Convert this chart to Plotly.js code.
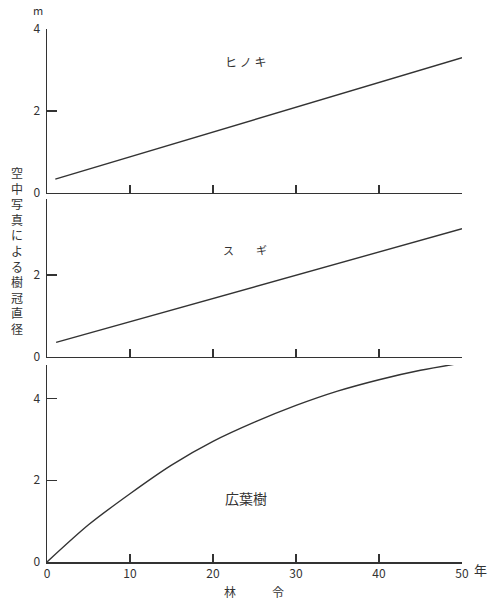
<!DOCTYPE html>
<html>
<head>
<meta charset="utf-8">
<script src="https://cdn.plot.ly/plotly-3.0.1.min.js"></script>
<style>html,body{margin:0;padding:0;background:#fff;}#chart{width:488px;height:599px;}</style>
</head>
<body>
<div id="chart"></div>
<script>
// Data
const hinokiAge = [1, 50];
const hinokiCrown = [0.33, 3.30];
const sugiAge = [1.1, 50];
const sugiCrown = [0.35, 3.13];
const broadAge = [0, 5, 10, 15, 20, 25, 30, 35, 40, 45, 50];
const broadCrown = [0, 0.91, 1.67, 2.37, 2.95, 3.42, 3.83, 4.18, 4.46, 4.69, 4.87];
const xTicks = [0, 10, 20, 30, 40, 50];
const yTicksTop = [0, 2, 4];
const yTicksMid = [0, 2];
const yTicksBot = [0, 2, 4];

const FONT = 'Noto Sans CJK JP, Liberation Sans, sans-serif';
const INK = '#333';
const L = 47, R = 26, T = 29, B = 37, W = 488, H = 599;
const PW = W - L - R, PH = H - T - B;
const px = v => (v - L) / PW;
const py = v => (H - B - v) / PH;

const lineStyle = {color: INK, width: 1.4};
const traces = [
  {x: broadAge, y: broadCrown, xaxis: 'x', yaxis: 'y', mode: 'lines', line: Object.assign({shape: 'spline', smoothing: 0.8}, lineStyle), hoverinfo: 'skip'},
  {x: sugiAge, y: sugiCrown, xaxis: 'x2', yaxis: 'y2', mode: 'lines', line: lineStyle, hoverinfo: 'skip'},
  {x: hinokiAge, y: hinokiCrown, xaxis: 'x3', yaxis: 'y3', mode: 'lines', line: lineStyle, hoverinfo: 'skip'}
];

const xBase = {
  range: [0, 50], tickvals: xTicks, ticks: 'inside', ticklen: 8, tickwidth: 1.3, tickcolor: INK,
  showline: true, linecolor: INK, linewidth: 1.5, showgrid: false, zeroline: false,
  tickfont: {family: FONT, size: 12, color: INK}, fixedrange: true
};
const yBase = {
  ticks: 'inside', ticklen: 10, tickwidth: 1.3, tickcolor: INK, ticklabelstandoff: 3,
  showline: true, linecolor: INK, linewidth: 1.5, showgrid: false, zeroline: false,
  tickfont: {family: FONT, size: 12, color: INK}, fixedrange: true
};

const d3bot = py(365), d2bot = py(356.7), d2top = py(199.3), d1bot = py(192.7);

function ann(text, x, y, size) {
  return {text: text, xref: 'paper', yref: 'paper', x: px(x), y: py(y), xanchor: 'center', yanchor: 'middle',
          showarrow: false, font: {family: FONT, size: size, color: INK}};
}

const layout = {
  width: W, height: H,
  margin: {l: L, r: R, t: T, b: B},
  paper_bgcolor: '#fff', plot_bgcolor: '#fff',
  showlegend: false,
  xaxis: Object.assign({}, xBase, {anchor: 'y', showticklabels: true}),
  xaxis2: Object.assign({}, xBase, {anchor: 'y2', showticklabels: false}),
  xaxis3: Object.assign({}, xBase, {anchor: 'y3', showticklabels: false}),
  yaxis: Object.assign({}, yBase, {domain: [0, d3bot], range: [0, 4.82], tickvals: yTicksBot, anchor: 'x'}),
  yaxis2: Object.assign({}, yBase, {domain: [d2bot, d2top], range: [0, 3.85], tickvals: yTicksMid, anchor: 'x2'}),
  yaxis3: Object.assign({}, yBase, {domain: [d1bot, 1], range: [0, 4], tickvals: yTicksTop, anchor: 'x3'}),
  annotations: [
    ann('m', 38, 10, 11),
    ann('空<br>中<br>写<br>真<br>に<br>よ<br>る<br>樹<br>冠<br>直<br>径', 17, 250, 12),
    ann('ヒ ノ キ', 245, 62, 12),
    ann('ス　　ギ', 245, 250, 11),
    ann('広葉樹', 246, 498, 14),
    ann('林　　　令', 254, 591, 12),
    ann('年', 480, 569, 13)
  ]
};

Plotly.newPlot('chart', traces, layout, {staticPlot: true, displayModeBar: false});
</script>
</body>
</html>
